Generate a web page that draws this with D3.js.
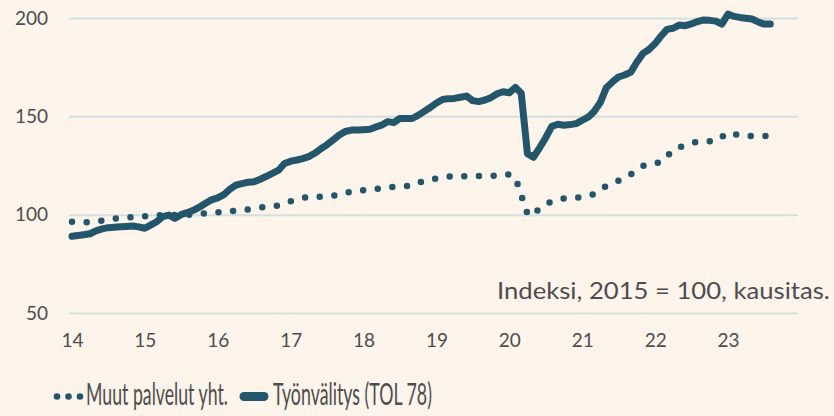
<!DOCTYPE html>
<html>
<head>
<meta charset="utf-8">
<script src="https://cdn.jsdelivr.net/npm/d3@7"></script>
<style>
  body { margin: 0; background: #fdf4ec; }
  svg { display: block; font-family: Lato, "Open Sans", sans-serif; }
</style>
</head>
<body>
<svg id="chart"></svg>
<script>
const width = 834;
const height = 416;

// Monthly series, starting January 2014
const startYear = 2014;
const yearTicks = [2014, 2015, 2016, 2017, 2018, 2019, 2020, 2021, 2022, 2023];
const yTicks = [50, 100, 150, 200];

// Työnvälitys (TOL 78)
const tyonvalitys = [
  89.0, 89.4, 89.8, 90.3, 91.8, 92.8, 93.4, 93.6, 93.8, 94.0, 94.2, 93.8,
  93.1, 94.8, 96.4, 99.0, 99.8, 98.1, 100.0, 101.0, 102.2, 103.8, 105.8, 107.5,
  108.5, 110.2, 112.8, 115.0, 115.8, 116.5, 116.7, 118.0, 119.5, 121.0, 122.6, 126.0,
  127.2, 127.8, 128.5, 129.5, 131.2, 133.5, 135.5, 138.0, 140.5, 142.3, 143.0, 143.0,
  143.2, 143.4, 144.5, 145.5, 147.3, 146.8, 148.9, 148.9, 148.9, 150.5, 152.5, 154.5,
  156.8, 158.6, 159.0, 159.1, 159.7, 160.3, 158.0, 157.5, 158.3, 159.5, 161.5, 162.5,
  162.0, 164.7, 161.7, 131.0, 129.2, 134.0, 139.0, 144.9, 146.0, 145.5, 145.8, 146.3,
  148.0, 149.7, 152.5, 157.0, 164.5, 167.5, 170.0, 171.0, 172.5, 177.5, 182.0, 184.0,
  187.0, 191.0, 194.2, 194.8, 196.4, 196.1, 197.0, 198.2, 199.0, 198.8, 198.4, 196.9,
  202.0, 200.8, 200.3, 199.9, 199.5, 198.0, 196.9, 196.9
];

// Muut palvelut yht.
const muutPalvelut = [
  96.4, 96.3, 96.1, 96.3, 96.6, 96.9, 97.5, 98.0, 98.3, 98.5, 98.7, 99.0,
  99.2, 99.5, 99.7, 99.8, 99.8, 99.8, 99.8, 99.8, 100.1, 100.4, 100.7, 101.0,
  101.2, 101.4, 101.7, 102.0, 102.3, 102.7, 103.2, 103.6, 104.0, 104.3, 104.7, 105.6,
  106.8, 107.6, 108.4, 109.1, 109.1, 109.1, 109.4, 109.7, 110.0, 110.8, 111.8, 112.2,
  112.4, 112.6, 113.0, 113.4, 113.8, 114.1, 114.3, 114.5, 114.7, 116.0, 117.4, 117.9,
  118.3, 118.6, 119.2, 119.8, 119.6, 119.4, 119.4, 119.6, 119.8, 119.8, 119.8, 120.1,
  120.5, 118.8, 110.0, 100.5, 99.5, 103.5, 105.0, 106.8, 107.5, 108.2, 108.4, 108.6,
  108.9, 109.6, 110.4, 112.5, 114.6, 116.0, 117.2, 118.8, 120.5, 122.8, 124.8, 125.9,
  126.3, 126.6, 129.5, 133.0, 134.2, 135.4, 136.4, 137.1, 137.3, 137.3, 137.3, 139.5,
  141.7, 141.0, 140.3, 140.0, 140.0, 140.0, 140.0, 140.0
];

const lineColor = "#24566b";
const textColor = "#4d4d4d";
const gridColor = "#d4dfe0";

const months = tyonvalitys.map((d, i) => new Date(startYear, i, 1));

const svg = d3.select("#chart").attr("width", width).attr("height", height);

svg.append("rect").attr("width", width).attr("height", height).attr("fill", "#fdf4ec");

const x = d3.scaleTime()
  .domain([new Date(2014, 0, 1), new Date(2023, 0, 1)])
  .range([72, 728]);

const y = d3.scaleLinear().domain([50, 200]).range([313, 18]);

// Gridlines and y labels
const yAxis = d3.axisLeft(y)
  .tickValues(yTicks)
  .tickSize(-(798 - 69))
  .tickPadding(21);

svg.append("g")
  .attr("transform", "translate(69,0)")
  .call(yAxis)
  .call(g => g.select(".domain").remove())
  .call(g => g.selectAll(".tick line").attr("stroke", gridColor).attr("stroke-width", 2))
  .call(g => g.selectAll(".tick text")
    .attr("fill", textColor)
    .attr("font-size", 19)
    .attr("font-family", "Lato, sans-serif"));

// X labels
const xAxis = d3.axisBottom(x)
  .tickValues(yearTicks.map(yr => new Date(yr, 0, 1)))
  .tickFormat(d3.timeFormat("%y"))
  .tickSize(0)
  .tickPadding(21);

svg.append("g")
  .attr("transform", "translate(0,313)")
  .call(xAxis)
  .call(g => g.select(".domain").remove())
  .call(g => g.selectAll(".tick text")
    .attr("fill", textColor)
    .attr("font-size", 19)
    .attr("font-family", "Lato, sans-serif"));

// squeeze or stretch a text horizontally so it spans [x0, x1]
function fitText(x0, x1, yBase, size, str) {
  const t = svg.append("text")
    .attr("font-size", size)
    .attr("fill", textColor)
    .text(str);
  const len = t.node().getComputedTextLength();
  t.attr("transform", `translate(${x0},${yBase}) scale(${(x1 - x0) / len},1)`);
  return t;
}

// Note
fitText(497, 830, 299, 22.5, "Indeksi, 2015 = 100, kausitas.");

const line = d3.line()
  .x((d, i) => x(months[i]))
  .y(d => y(d));

svg.append("path")
  .datum(tyonvalitys)
  .attr("fill", "none")
  .attr("stroke", lineColor)
  .attr("stroke-width", 7)
  .attr("stroke-linejoin", "round")
  .attr("stroke-linecap", "round")
  .attr("d", line);

svg.append("path")
  .datum(muutPalvelut)
  .attr("fill", "none")
  .attr("stroke", lineColor)
  .attr("stroke-width", 6.5)
  .attr("stroke-linecap", "round")
  .attr("stroke-dasharray", "0 14.7")
  .attr("d", line);

// Legend
svg.selectAll(".legend-dot")
  .data([57, 68.5, 80])
  .enter()
  .append("circle")
  .attr("class", "legend-dot")
  .attr("cx", d => d)
  .attr("cy", 396.5)
  .attr("r", 3.3)
  .attr("fill", lineColor);

fitText(86, 228, 405, 30, "Muut palvelut yht.");

svg.append("line")
  .attr("x1", 244)
  .attr("x2", 264)
  .attr("y1", 396.5)
  .attr("y2", 396.5)
  .attr("stroke", lineColor)
  .attr("stroke-width", 9)
  .attr("stroke-linecap", "round");

fitText(273, 432, 405, 30, "Työnvälitys (TOL 78)");
</script>
</body>
</html>
